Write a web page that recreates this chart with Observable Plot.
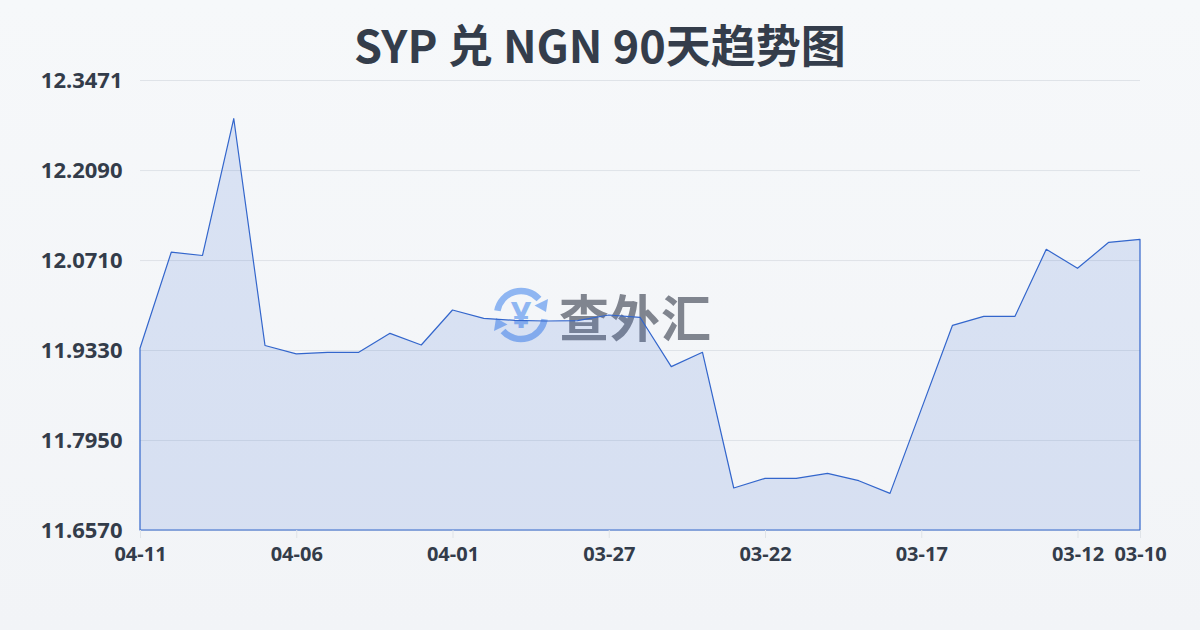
<!DOCTYPE html>
<html>
<head>
<meta charset="utf-8">
<script src="https://cdn.jsdelivr.net/npm/d3@7"></script>
<script src="https://cdn.jsdelivr.net/npm/@observablehq/plot@0.6"></script>
<style>
  html, body { margin: 0; padding: 0; }
  body {
    width: 1200px; height: 630px; overflow: hidden; position: relative;
    background: linear-gradient(180deg, #f6f8fa 0%, #f2f4f7 100%);
    font-family: "Noto Sans CJK SC", "Noto Sans", sans-serif;
  }
  #title {
    height: 60px; box-sizing: border-box; padding-top: 21px;
    text-align: center; font-size: 45px; line-height: 45px; font-weight: 700;
    color: #343d4b; white-space: nowrap;
  }
  #wm { position: absolute; left: 489px; top: 283px; display: flex; align-items: center; z-index: 0; }
  #wm span { font-size: 50px; font-weight: 700; color: #80858f; margin-left: 6px; line-height: 64px; letter-spacing: 1px; }
  #chart { position: relative; z-index: 1; }
  #chart svg { overflow: visible; }
</style>
</head>
<body>
<div id="title">SYP 兑 NGN 90天趋势图</div>
<div id="wm">
  <svg width="64" height="64" viewBox="0 0 64 64">
    <path d="M 8.4 27.8 A 24 24 0 0 1 50 16" fill="none" stroke="#8fb6f2" stroke-width="6.5"/>
    <path d="M 59 16 L 57 29 L 45.5 22.5 Z" fill="#8fb6f2"/>
    <path d="M 55.6 36.2 A 24 24 0 0 1 14 48" fill="none" stroke="#8fb6f2" stroke-width="6.5"/>
    <path d="M 5 48 L 7 35 L 18.5 41.5 Z" fill="#8fb6f2"/>
    <text x="32" y="45" text-anchor="middle" font-size="36" font-weight="700" fill="#8fb6f2" font-family="Noto Sans">¥</text>
  </svg>
  <span>查外汇</span>
</div>
<div id="chart"></div>
<script>
const dates = ["2025-04-11","2025-04-10","2025-04-09","2025-04-08","2025-04-07","2025-04-06","2025-04-05","2025-04-04","2025-04-03","2025-04-02","2025-04-01","2025-03-31","2025-03-30","2025-03-29","2025-03-28","2025-03-27","2025-03-26","2025-03-25","2025-03-24","2025-03-23","2025-03-22","2025-03-21","2025-03-20","2025-03-19","2025-03-18","2025-03-17","2025-03-16","2025-03-15","2025-03-14","2025-03-13","2025-03-12","2025-03-11","2025-03-10"];
const rates = [11.9357,12.0830,12.0780,12.2880,11.9400,11.9270,11.9295,11.9295,11.9586,11.9407,11.9944,11.9816,11.9785,11.9775,11.9780,11.9867,11.9832,11.9075,11.9295,11.7214,11.7362,11.7362,11.7439,11.7326,11.7132,11.8420,11.9709,11.9847,11.9847,12.0875,12.0583,12.0982,12.1028];
const yTicks = [11.6570, 11.7950, 11.9330, 12.0710, 12.2090, 12.3471];
const xTickLabels = ["2025-04-11","2025-04-06","2025-04-01","2025-03-27","2025-03-22","2025-03-17","2025-03-12","2025-03-10"];
const yMin = 11.6570, yMax = 12.3471;

const parse = d3.utcParse("%Y-%m-%d");
const data = dates.map((d, i) => ({date: parse(d), v: rates[i]}));
const xTicks = xTickLabels.map(parse);

const chart = Plot.plot({
  width: 1200,
  height: 570,
  marginTop: 20,
  marginBottom: 100,
  marginLeft: 140,
  marginRight: 60,
  style: {
    background: "transparent",
    fontFamily: "'Noto Sans', 'Open Sans', sans-serif",
    fontSize: "20px",
    fontWeight: "700",
    color: "#333c4a"
  },
  x: {type: "utc", domain: [parse("2025-03-10"), parse("2025-04-11")], reverse: true, label: null},
  y: {domain: [yMin, yMax], label: null},
  marks: [
    Plot.gridY(yTicks, {stroke: "#dfe3e8", strokeOpacity: 1}),
    Plot.areaY(data, {x: "date", y1: yMin, y2: "v", fill: "#3a6ed2", fillOpacity: 0.15, stroke: "#3366cc", strokeWidth: 1.2}),
    Plot.axisY(yTicks, {tickSize: 0, tickPadding: 18, tickFormat: d => d.toFixed(4), fontSize: 22, fontWeight: 700, label: null}),
    Plot.axisX(xTicks, {tickSize: 8, tickPadding: 8, stroke: "#dfe3e8", tickFormat: d3.utcFormat("%m-%d"), fontSize: 20, fontWeight: 700, label: null})
  ]
});
document.getElementById("chart").appendChild(chart);
</script>
</body>
</html>
